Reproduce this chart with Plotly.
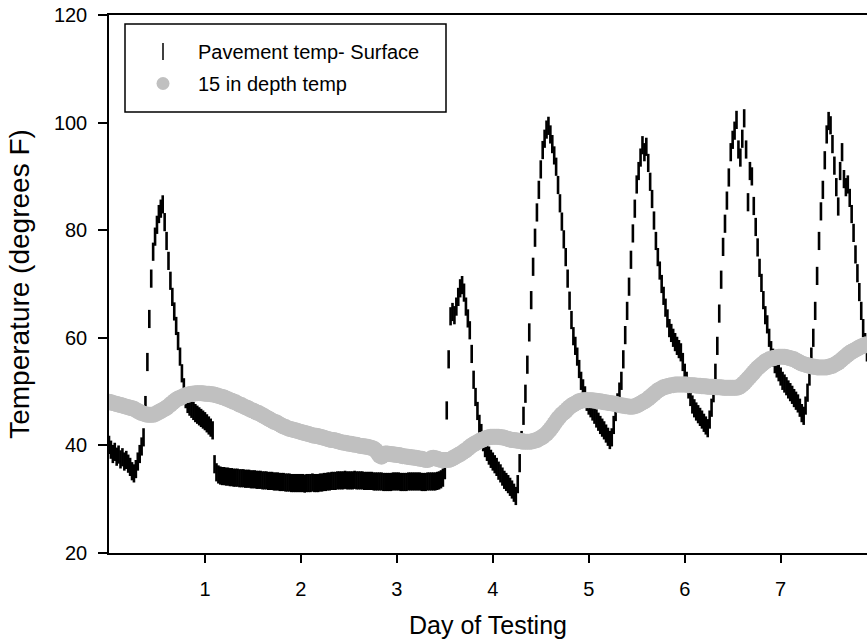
import numpy as np
import plotly.graph_objects as go

# Logger readings, one every 0.02 day (day 0.00 .. 7.90)
STEP = 0.02

surface_temp = [
    40.1, 39.2, 38.4, 38.8, 37.9, 38.3, 37.4, 37.8, 37.0, 37.3,
    36.6, 36.0, 35.2, 34.8, 35.6, 37.0, 38.4, 39.8, 41.5, 47.5,
    55.5, 63.5, 71.0, 76.0, 78.8, 81.0, 83.0, 84.0, 84.8, 81.5,
    78.0, 74.3, 70.6, 67.6, 64.9, 62.2, 59.4, 56.5, 53.4, 50.8,
    48.6, 47.7, 47.2, 46.8, 46.4, 46.0, 45.7, 45.4, 45.1, 44.8,
    44.5, 44.1, 43.7, 43.3, 42.8, 36.5, 35.0, 34.6, 34.4, 34.3,
    34.3, 34.2, 34.2, 34.1, 34.1, 34.0, 34.0, 34.0, 33.9, 33.9,
    33.9, 33.8, 33.8, 33.8, 33.7, 33.7, 33.7, 33.6, 33.6, 33.6,
    33.5, 33.5, 33.5, 33.4, 33.4, 33.4, 33.3, 33.3, 33.3, 33.2,
    33.2, 33.2, 33.1, 33.1, 33.1, 33.0, 33.0, 33.0, 33.0, 33.0,
    33.0, 33.0, 32.9, 33.0, 33.0, 33.0, 33.1, 33.0, 33.0, 33.0,
    33.1, 33.1, 33.2, 33.2, 33.3, 33.3, 33.4, 33.4, 33.4, 33.5,
    33.5, 33.5, 33.5, 33.6, 33.5, 33.5, 33.5, 33.5, 33.6, 33.5,
    33.5, 33.5, 33.5, 33.4, 33.4, 33.4, 33.4, 33.4, 33.3, 33.3,
    33.3, 33.3, 33.3, 33.2, 33.2, 33.2, 33.2, 33.2, 33.3, 33.3,
    33.3, 33.3, 33.2, 33.2, 33.2, 33.2, 33.3, 33.3, 33.3, 33.3,
    33.3, 33.3, 33.3, 33.2, 33.2, 33.2, 33.3, 33.3, 33.3, 33.3,
    33.3, 33.4, 33.5, 33.7, 34.0, 35.4, 46.5, 56.0, 64.0, 64.8,
    64.2, 65.8, 67.6, 69.2, 69.8, 68.4, 65.8, 63.6, 61.4, 57.0,
    52.2, 49.0, 46.4, 44.0, 42.3, 40.6, 39.5, 38.8, 38.1, 37.5,
    37.0, 36.5, 36.0, 35.3, 34.8, 34.2, 33.6, 33.2, 32.8, 32.3,
    31.8, 31.2, 30.6, 32.8, 36.7, 41.0, 45.5, 49.6, 55.0, 61.0,
    67.0, 73.2, 78.6, 83.3, 87.5, 91.3, 94.9, 97.0, 98.7, 99.4,
    97.8, 96.0, 93.9, 91.8, 88.4, 85.0, 81.6, 78.3, 75.0, 71.0,
    66.9, 63.3, 60.3, 58.5, 56.5, 54.2, 52.0, 50.6, 49.3, 48.1,
    47.4, 46.9, 46.3, 45.7, 45.0, 44.4, 43.8, 43.3, 42.8, 42.2,
    41.6, 41.0, 41.5, 43.8, 46.2, 48.0, 50.0, 52.0, 56.0, 60.5,
    65.0, 69.5, 74.5, 79.4, 84.0, 88.5, 91.0, 93.5, 95.8, 94.5,
    95.5, 92.5, 89.0, 85.8, 81.8, 78.0, 75.0, 72.5, 70.0, 67.8,
    65.6, 63.6, 61.8, 60.9, 60.0, 59.2, 58.5, 57.9, 57.3, 55.5,
    53.5, 52.0, 50.4, 49.0, 47.6, 46.9, 46.3, 45.8, 45.3, 44.8,
    44.2, 43.7, 43.2, 44.8, 47.0, 49.7, 53.5, 58.5, 64.5, 70.8,
    76.9, 81.2, 85.5, 89.8, 94.5, 96.8, 98.5, 100.5, 95.0, 93.5,
    97.0, 100.8, 95.0, 85.2, 91.0, 90.0, 84.5, 80.6, 76.8, 73.0,
    70.2, 67.0, 64.2, 62.5, 60.0, 57.7, 56.3, 55.1, 54.3, 53.6,
    52.8, 52.0, 51.5, 51.0, 50.4, 49.9, 49.4, 48.8, 48.3, 47.8,
    47.0, 46.0, 45.5, 47.4, 49.8, 52.8, 56.5, 60.0, 65.0, 71.5,
    78.0, 83.5, 87.5, 93.0, 97.8, 100.3, 99.5, 96.0, 92.0, 88.0,
    84.4, 91.0, 94.5, 89.5, 88.0, 88.5, 86.0, 83.0, 79.5, 75.5,
    72.0, 68.5, 65.0, 61.8, 59.2, 57.3,
]

depth_temp = [
    48.1, 48.0, 47.9, 47.8, 47.7, 47.6, 47.5, 47.4, 47.3, 47.2,
    47.1, 47.0, 46.9, 46.8, 46.6, 46.4, 46.2, 46.0, 45.9, 45.8,
    45.7, 45.7, 45.7, 45.7, 45.8, 46.0, 46.2, 46.4, 46.6, 46.8,
    47.0, 47.3, 47.6, 47.9, 48.2, 48.5, 48.7, 48.8, 49.0, 49.2,
    49.3, 49.4, 49.5, 49.6, 49.6, 49.7, 49.7, 49.7, 49.7, 49.7,
    49.6, 49.6, 49.6, 49.5, 49.5, 49.4, 49.3, 49.2, 49.1, 49.0,
    48.9, 48.7, 48.6, 48.4, 48.3, 48.1, 48.0, 47.8, 47.6, 47.5,
    47.3, 47.1, 47.0, 46.8, 46.6, 46.5, 46.3, 46.1, 46.0, 45.8,
    45.6, 45.4, 45.2, 45.0, 44.8, 44.6, 44.4, 44.3, 44.1, 43.9,
    43.7, 43.5, 43.4, 43.2, 43.1, 43.0, 42.9, 42.8, 42.7, 42.6,
    42.5, 42.4, 42.3, 42.2, 42.1, 42.0, 41.9, 41.8, 41.8, 41.7,
    41.6, 41.5, 41.4, 41.3, 41.2, 41.1, 41.0, 41.0, 40.9, 40.8,
    40.7, 40.6, 40.5, 40.5, 40.4, 40.3, 40.3, 40.2, 40.1, 40.1,
    40.0, 39.9, 39.9, 39.8, 39.8, 39.7, 39.6, 39.5, 39.4, 39.1,
    38.6, 38.1, 37.9, 38.2, 38.5, 38.5, 38.4, 38.4, 38.3, 38.3,
    38.2, 38.2, 38.1, 38.0, 38.0, 37.9, 37.9, 37.8, 37.8, 37.7,
    37.7, 37.6, 37.5, 37.5, 37.4, 37.3, 37.3, 37.4, 37.6, 37.7,
    37.6, 37.5, 37.4, 37.3, 37.3, 37.3, 37.3, 37.3, 37.4, 37.6,
    37.8, 38.0, 38.2, 38.4, 38.6, 38.9, 39.1, 39.4, 39.7, 40.0,
    40.2, 40.4, 40.6, 40.8, 41.0, 41.1, 41.3, 41.4, 41.5, 41.6,
    41.6, 41.6, 41.6, 41.6, 41.5, 41.5, 41.4, 41.3, 41.2, 41.1,
    41.0, 41.0, 40.9, 40.9, 40.8, 40.8, 40.7, 40.7, 40.7, 40.7,
    40.7, 40.8, 40.9, 41.0, 41.2, 41.4, 41.6, 41.9, 42.2, 42.6,
    43.0, 43.5, 44.0, 44.5, 45.0, 45.4, 45.8, 46.1, 46.4, 46.8,
    47.1, 47.4, 47.6, 47.8, 48.0, 48.2, 48.3, 48.4, 48.4, 48.4,
    48.4, 48.4, 48.4, 48.3, 48.3, 48.2, 48.2, 48.1, 48.0, 48.0,
    47.9, 47.9, 47.8, 47.8, 47.7, 47.6, 47.5, 47.4, 47.4, 47.3,
    47.3, 47.2, 47.2, 47.2, 47.3, 47.4, 47.6, 47.8, 48.0, 48.2,
    48.4, 48.7, 49.0, 49.3, 49.6, 49.9, 50.2, 50.4, 50.6, 50.8,
    50.9, 51.0, 51.1, 51.2, 51.2, 51.3, 51.3, 51.3, 51.3, 51.3,
    51.3, 51.3, 51.2, 51.2, 51.2, 51.2, 51.1, 51.1, 51.1, 51.0,
    51.0, 51.0, 50.9, 50.9, 50.9, 50.9, 50.8, 50.8, 50.8, 50.8,
    50.7, 50.7, 50.7, 50.7, 50.7, 50.7, 50.7, 50.7, 50.8, 51.0,
    51.3, 51.6, 52.0, 52.4, 52.8, 53.2, 53.6, 54.0, 54.4, 54.7,
    55.0, 55.3, 55.6, 55.8, 56.0, 56.1, 56.2, 56.3, 56.4, 56.5,
    56.5, 56.5, 56.5, 56.4, 56.3, 56.2, 56.1, 56.0, 55.8, 55.6,
    55.4, 55.2, 55.1, 55.0, 54.9, 54.8, 54.7, 54.6, 54.6, 54.5,
    54.5, 54.5, 54.5, 54.5, 54.5, 54.6, 54.7, 54.8, 55.0, 55.2,
    55.4, 55.7, 56.0, 56.3, 56.6, 56.9, 57.2, 57.4, 57.6, 57.8,
    58.0, 58.2, 58.4, 58.5, 58.7, 58.8,
]

x_ticks = [1, 2, 3, 4, 5, 6, 7]
y_ticks = [20, 40, 60, 80, 100, 120]

SURFACE_NAME = "Pavement temp- Surface"
DEPTH_NAME = "15 in depth temp"

day = np.round(np.arange(len(surface_temp)) * STEP, 2)

FONT = "Liberation Sans, Arial, sans-serif"
GREY = "#c0c0c0"

# page geometry (px)
W, H = 867, 644
ML, MR, MT, MB = 109, 0, 15, 91
PW, PH = W - ML - MR, H - MT - MB


def px_x(p):
    return (p - ML) / PW


def px_y(p):
    return (H - MB - p) / PH


fig = go.Figure()

# Surface readings: short vertical ticks at each sample
fig.add_trace(go.Scatter(
    x=day, y=surface_temp, mode="markers", name=SURFACE_NAME,
    showlegend=False,
    marker=dict(symbol="line-ns", size=13, color="black",
                line=dict(width=2.6, color="black")),
))
# 15 in depth readings: large grey dots
fig.add_trace(go.Scatter(
    x=day, y=depth_temp, mode="markers", name=DEPTH_NAME,
    showlegend=False,
    marker=dict(symbol="circle", size=16, color=GREY, line=dict(width=0)),
))

# Legend entries
fig.add_trace(go.Scatter(
    x=[None], y=[None], mode="markers", name=SURFACE_NAME, legendgroup="s",
    marker=dict(symbol="line-ns", size=12, color="black",
                line=dict(width=1.5, color="black")),
))
fig.add_trace(go.Scatter(
    x=[None], y=[None], mode="markers", name=DEPTH_NAME, legendgroup="d",
    marker=dict(symbol="circle", size=13, color=GREY),
))

# legend frame
fig.add_shape(type="rect", xref="paper", yref="paper",
              x0=px_x(125), x1=px_x(446), y0=px_y(112), y1=px_y(24),
              line=dict(color="black", width=1.5), fillcolor="rgba(0,0,0,0)")

fig.update_layout(
    width=W, height=H,
    margin=dict(l=ML, r=MR, t=MT, b=MB),
    paper_bgcolor="white", plot_bgcolor="white",
    font=dict(family=FONT, size=20, color="black"),
    showlegend=True,
    legend=dict(
        x=px_x(128), y=px_y(32), xanchor="left", yanchor="top",
        bgcolor="rgba(0,0,0,0)", borderwidth=0,
        font=dict(size=20), tracegroupgap=3, itemwidth=60,
    ),
    xaxis=dict(
        range=[0, 7.9], tickvals=x_ticks, ticks="outside", ticklen=8,
        tickwidth=1.5, tickcolor="black", showline=True, linecolor="black",
        linewidth=1.5, mirror=True, showgrid=False, zeroline=False,
        ticklabelstandoff=9, tickfont=dict(size=20),
        title=dict(text="Day of Testing", font=dict(size=25), standoff=18),
    ),
    yaxis=dict(
        range=[20, 120], tickvals=y_ticks, ticks="outside", ticklen=9,
        tickwidth=1.5, tickcolor="black", showline=True, linecolor="black",
        linewidth=1.5, showgrid=False, zeroline=False,
        ticklabelstandoff=7, tickfont=dict(size=20),
        title=dict(text="Temperature (degrees F)", font=dict(size=28), standoff=16),
    ),
)

fig.write_html("out.html")
